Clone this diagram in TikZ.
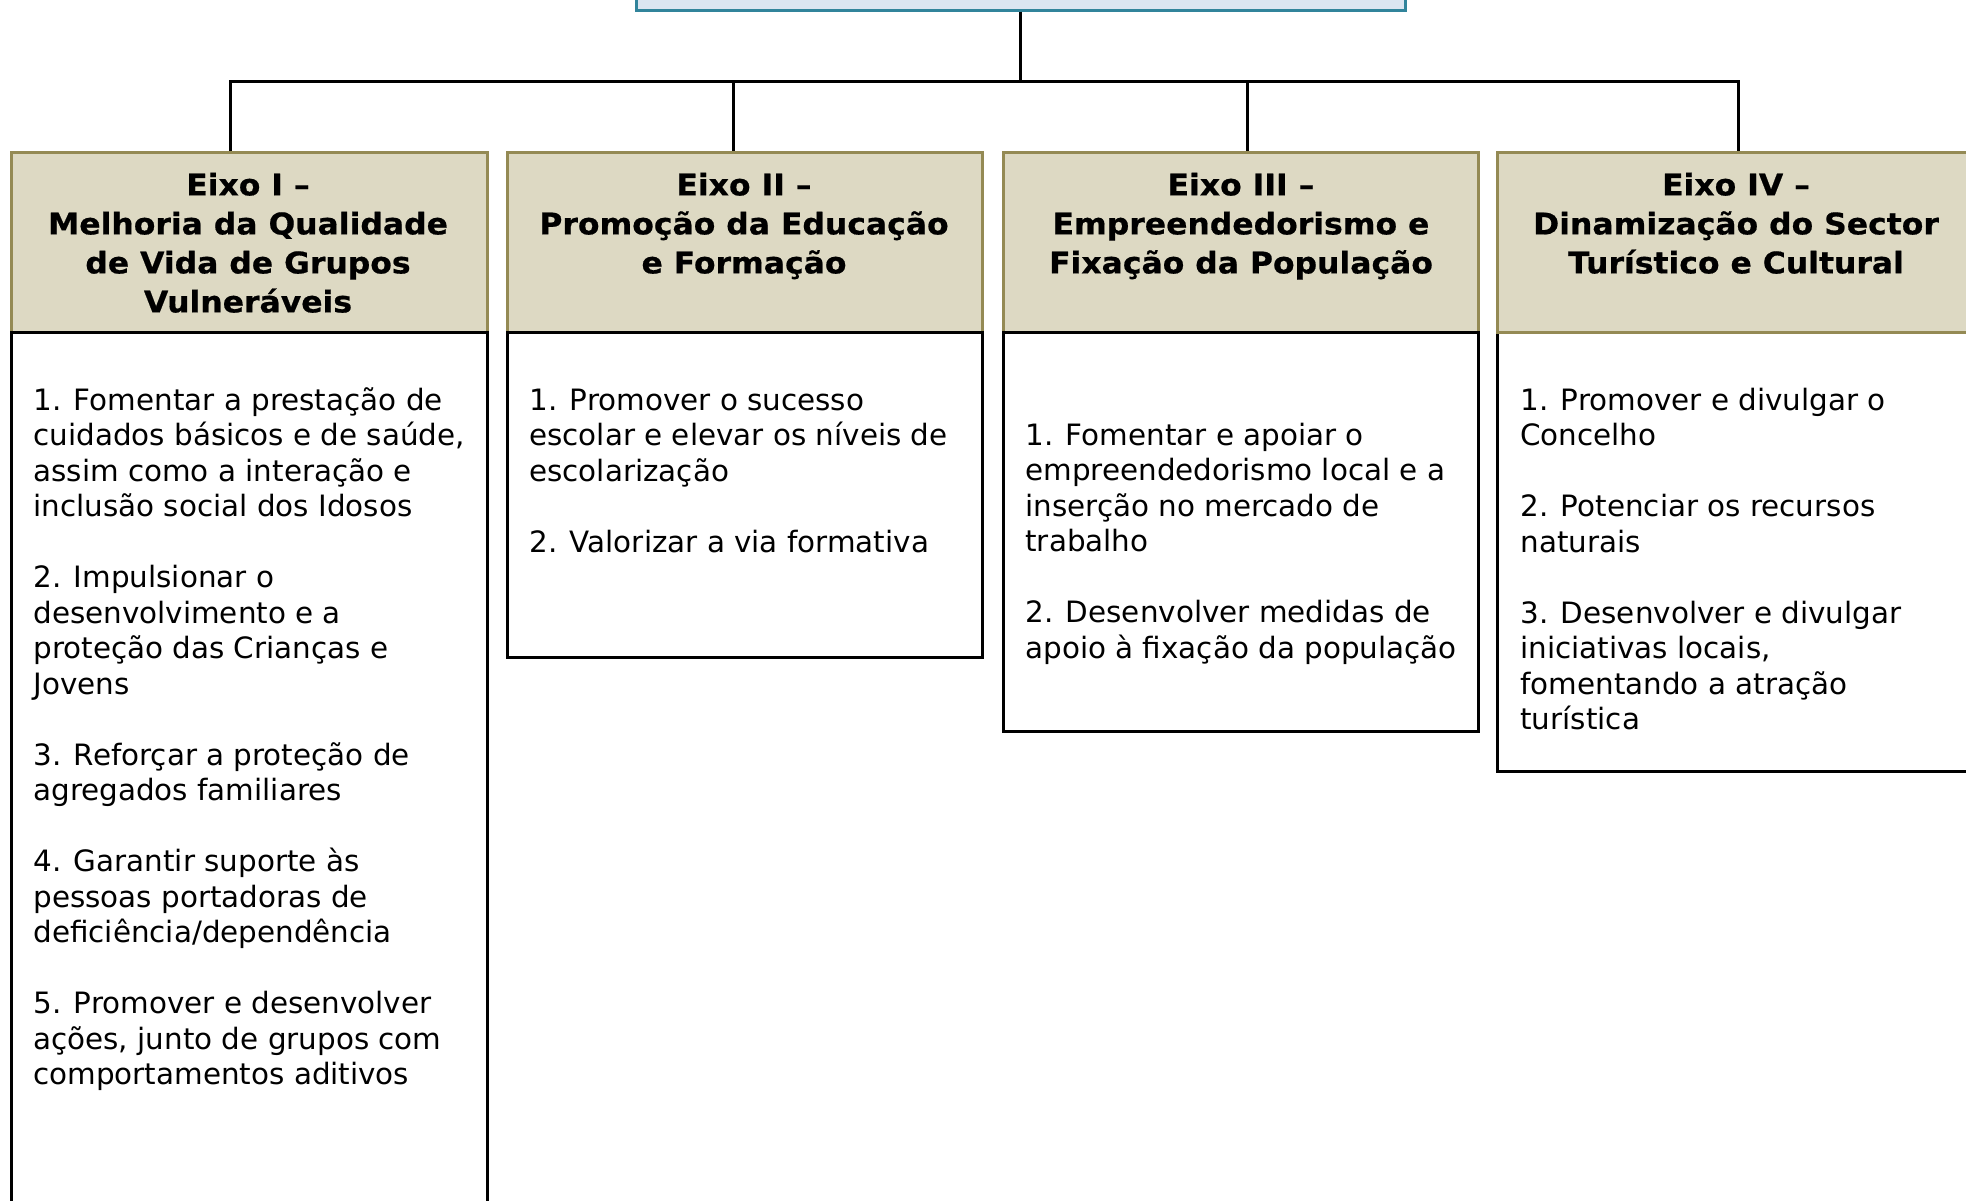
\documentclass[tikz,border=0pt]{standalone}
\usepackage{fontspec}
\setmainfont{DejaVu Sans}[BoldFeatures={FakeStretch=1.055,FakeBold=0.6}]
\usetikzlibrary{fit}
\definecolor{teal1}{HTML}{31849B}
\definecolor{lightblue1}{HTML}{DBE5F1}
\definecolor{tanfill}{HTML}{DDD9C3}
\definecolor{olive1}{HTML}{948A54}
\tikzset{
  topbox/.style={draw=teal1, fill=lightblue1, line width=1.5pt, inner sep=0pt},
  hdrbox/.style={draw=olive1, fill=tanfill, line width=1.5pt, inner sep=0pt},
  bodybox/.style={draw=black, fill=white, line width=1.5pt, inner sep=0pt},
  conn/.style={draw=black, line width=1.5pt},
  hdrtxt/.style={font=\bfseries\fontsize{14.9}{19.5}\selectfont, align=center, inner sep=0pt, anchor=north},
  bodytxt/.style={font=\fontsize{14.7}{17.75}\selectfont, align=left, inner sep=0pt, anchor=north west},
}
\newcommand{\fl}{\rule{0pt}{14pt}}
\begin{document}
\begin{tikzpicture}[x=0.5pt, y=-0.5pt]
\useasboundingbox (0,0) rectangle (1966,1200);
\clip (0,0) rectangle (1966,1200);
% top box
\node[topbox, fit={(636,-60) (1405,10)}] (top) {};
% bodies (box 4 body first so its header border stays olive)
\node[bodybox, fit={(1497,332) (1977,771)}] (b4) {};
\node[hdrbox, fit={(11.5,152) (487,332)}] (h1) {};
\node[hdrbox, fit={(507,152) (982,332)}] (h2) {};
\node[hdrbox, fit={(1003,152) (1478,332)}] (h3) {};
\node[hdrbox, fit={(1497,152) (1977,332)}] (h4) {};
\node[bodybox, fit={(11.5,332) (487,1260)}] (b1) {};
\node[bodybox, fit={(507,332) (982,657)}] (b2) {};
\node[bodybox, fit={(1003,332) (1478,731)}] (b3) {};
% connectors
\coordinate (j) at (1020,81);
\coordinate (d1) at (230,81);
\coordinate (d2) at (733,81);
\coordinate (d3) at (1247,81);
\coordinate (d4) at (1738,81);
\draw[conn] (top.south -| j) -- (j);
\draw[conn, line cap=rect] (d1) -- (d4);
\draw[conn] (d1) -- (d1 |- h1.north);
\draw[conn] (d2) -- (d2 |- h2.north);
\draw[conn] (d3) -- (d3 |- h3.north);
\draw[conn] (d4) -- (d4 |- h4.north);
% header texts
\node[hdrtxt] (ht1) at (248,167) {\fl Eixo I –\\Melhoria da Qualidade\\de Vida de Grupos\\Vulneráveis};
\node[hdrtxt] (ht2) at (744,167) {\fl Eixo II –\\Promoção da Educação\\e Formação};
\node[hdrtxt] (ht3) at (1241,167) {\fl Eixo III –\\Empreendedorismo e\\Fixação da População};
\node[hdrtxt] (ht4) at (1736,167) {\fl Eixo IV –\\Dinamização do Sector\\Turístico e Cultural};
% body texts
\node[bodytxt] (t1) at (33,382) {\fl 1. Fomentar a prestação de\\cuidados básicos e de saúde,\\assim como a interação e\\inclusão social dos Idosos\\[17.75pt]
2. Impulsionar o\\desenvolvimento e a\\proteção das Crianças e\\Jovens\\[17.75pt]
3. Reforçar a proteção de\\agregados familiares\\[17.75pt]
4. Garantir suporte às\\pessoas portadoras de\\deficiência/dependência\\[17.75pt]
5. Promover e desenvolver\\ações, junto de grupos com\\comportamentos aditivos};
\node[bodytxt] (t2) at (529,382) {\fl 1. Promover o sucesso\\escolar e elevar os níveis de\\escolarização\\[17.75pt]
2. Valorizar a via formativa};
\node[bodytxt] (t3) at (1025,417) {\fl 1. Fomentar e apoiar o\\empreendedorismo local e a\\inserção no mercado de\\trabalho\\[17.75pt]
2. Desenvolver medidas de\\apoio à fixação da população};
\node[bodytxt] (t4) at (1520,382) {\fl 1. Promover e divulgar o\\Concelho\\[17.75pt]
2. Potenciar os recursos\\naturais\\[17.75pt]
3. Desenvolver e divulgar\\iniciativas locais,\\fomentando a atração\\turística};
\end{tikzpicture}
\end{document}
